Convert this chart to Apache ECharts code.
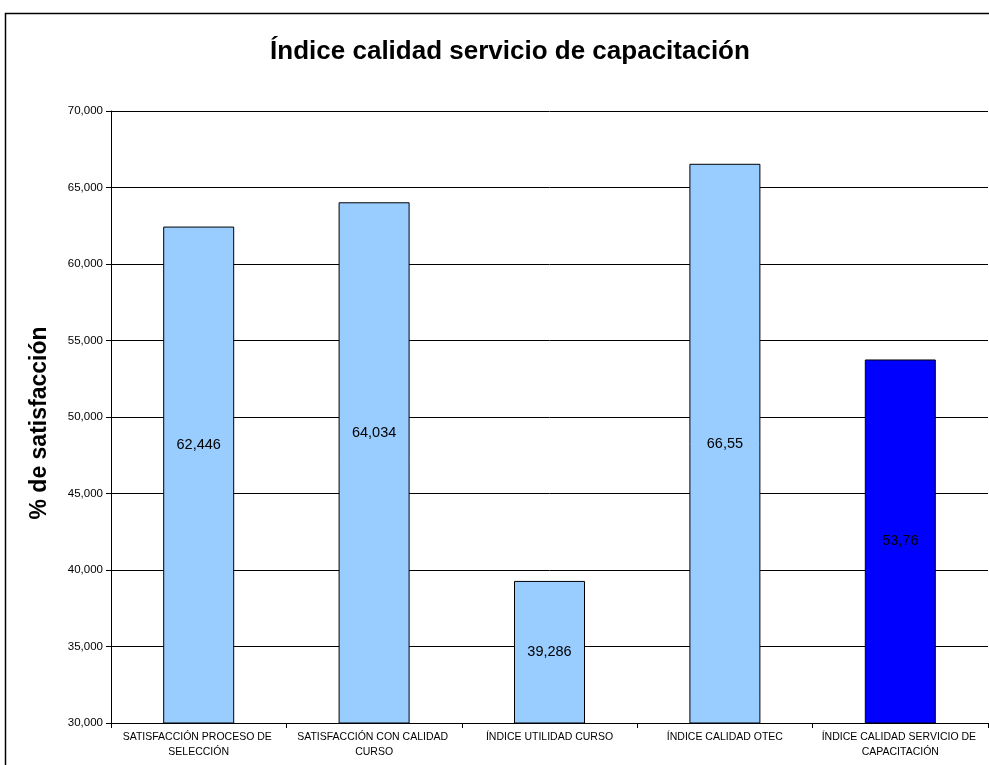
<!DOCTYPE html>
<html><head><meta charset="utf-8">
<script src="https://cdn.jsdelivr.net/npm/echarts@6/dist/echarts.min.js"></script>
<style>html,body{margin:0;padding:0;background:#fff}#c{width:989px;height:765px}</style>
</head><body><div id="c"></div>
<script>
const categories = ['SATISFACCIÓN PROCESO DE SELECCIÓN','SATISFACCIÓN CON CALIDAD CURSO','ÍNDICE UTILIDAD CURSO','ÍNDICE CALIDAD OTEC','ÍNDICE CALIDAD SERVICIO DE CAPACITACIÓN'];
const values = [62.446, 64.034, 39.286, 66.55, 53.76];
const valueLabels = ['62,446','64,034','39,286','66,55','53,76'];
const title = 'Índice calidad servicio de capacitación';
const yName = '% de satisfacción';

const barColors = ['#99CCFF','#99CCFF','#99CCFF','#99CCFF','#0000FF'];
const labelShift = [-30, -30, 0, 0, 0];

const chart = echarts.init(document.getElementById('c'));
chart.setOption({
  animation: false,
  title: {text: title, left: 505, top: 34, textAlign: 'center',
    textStyle: {fontFamily: 'Liberation Sans, Arial', fontSize: 26, fontWeight: 'bold', color: '#000'}},
  graphic: [
    {type: 'rect', shape: {x: 5.5, y: 13.5, width: 1000, height: 800},
      style: {fill: 'none', stroke: '#000', lineWidth: 1.5}, z: 100},
    {type: 'text', x: 40, y: 423, rotation: Math.PI / 2,
      style: {text: yName, fontFamily: 'Liberation Sans, Arial', fontSize: 23, fontWeight: 'bold',
        fill: '#000', align: 'center', verticalAlign: 'middle'}}
  ],
  grid: {left: 111, top: 111, right: -2, bottom: 42},
  xAxis: {type: 'category', data: categories,
    axisLine: {lineStyle: {color: '#000'}},
    axisTick: {show: true, length: 5, lineStyle: {color: '#000'}},
    axisLabel: {interval: 0, width: 172, overflow: 'break', margin: 7, lineHeight: 15,
      fontFamily: 'Liberation Sans, Arial', fontSize: 10.5, color: '#000'}},
  yAxis: {type: 'value', min: 30, max: 70, interval: 5,
    axisLine: {show: true, lineStyle: {color: '#000'}},
    axisTick: {show: true, length: 5, lineStyle: {color: '#000'}},
    splitLine: {lineStyle: {color: '#000', width: 1}},
    axisLabel: {margin: 8, fontFamily: 'Liberation Sans, Arial', fontSize: 11.5, color: '#000',
      formatter: v => v.toFixed(3).replace('.', ',')}},
  series: [{type: 'bar', barWidth: 71,
    data: values.map((v, i) => ({value: v,
      itemStyle: {color: barColors[i], borderColor: '#000', borderWidth: 1},
      label: {show: true, position: 'inside', offset: [0, labelShift[i]],
        formatter: valueLabels[i], fontFamily: 'Liberation Sans, Arial', fontSize: 14.5, color: '#000'}}))
  }]
});
</script></body></html>
